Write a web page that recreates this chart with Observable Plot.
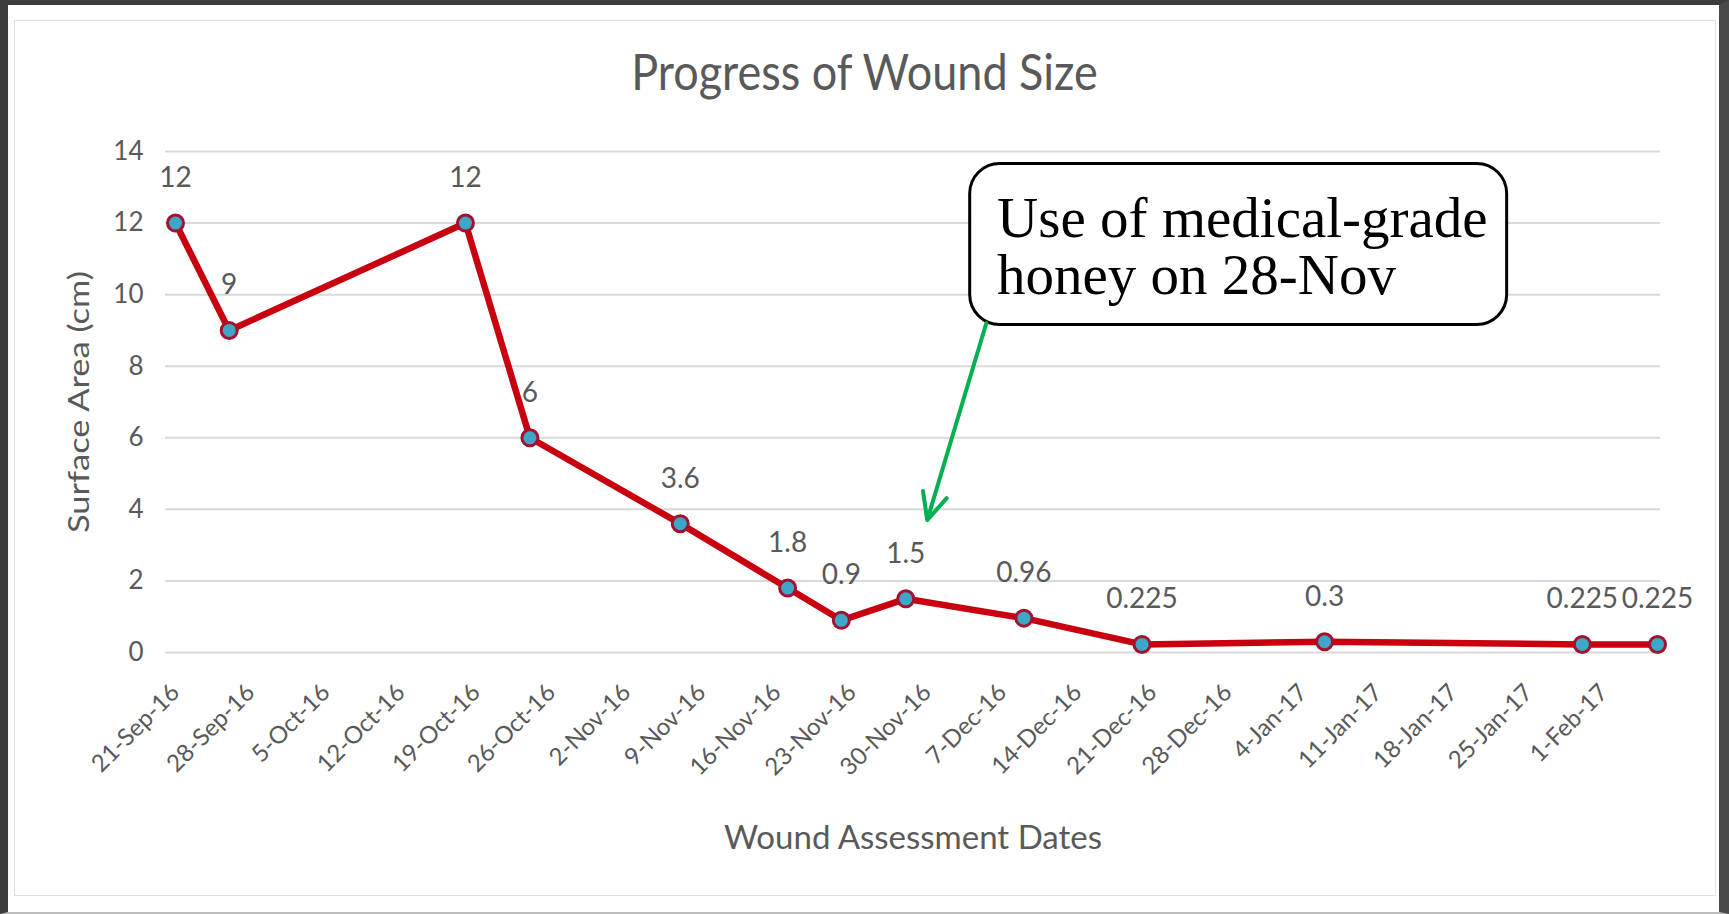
<!DOCTYPE html>
<html>
<head>
<meta charset="utf-8">
<script src="https://cdn.jsdelivr.net/npm/d3@7"></script>
<script src="https://cdn.jsdelivr.net/npm/@observablehq/plot@0.6"></script>
<style>
  html, body { margin: 0; padding: 0; background: #ffffff; }
  #page { position: relative; width: 1729px; height: 914px; overflow: hidden; background: #fff; }
  #outer { position: absolute; left: 0; top: 0; width: 1729px; height: 914px; box-sizing: border-box;
           border-left: 8px solid #3c3c3c; border-top: 5px solid #3c3c3c; border-right: 10px solid #4a4a4a; border-bottom: 2px solid #bdbdbd; }
  #inner { position: absolute; left: 14px; top: 20px; width: 1702px; height: 876px; box-sizing: border-box; border: 1px solid #e2e2e2; }
  #title { position: absolute; left: 0; top: 41px; width: 1729px; text-align: center;
           font-family: Lato, "Open Sans", sans-serif; font-size: 45px; color: #595959; line-height: 60px;
           transform: scaleY(1.12); }
  #chart { position: absolute; left: 0; top: 120px; }
</style>
</head>
<body>
<div id="page">
  <div id="outer"></div>
  <div id="inner"></div>
  <div id="title">Progress of Wound Size</div>
  <div id="chart"></div>
</div>
<script>
// ---- data ----
const assessmentDates = ["2016-09-21","2016-09-26","2016-10-18","2016-10-24","2016-11-07","2016-11-17","2016-11-22","2016-11-28","2016-12-09","2016-12-20","2017-01-06","2017-01-30","2017-02-06"];
const surfaceArea = [12, 9, 12, 6, 3.6, 1.8, 0.9, 1.5, 0.96, 0.225, 0.3, 0.225, 0.225];
const xTickLabels = ["21-Sep-16","28-Sep-16","5-Oct-16","12-Oct-16","19-Oct-16","26-Oct-16","2-Nov-16","9-Nov-16","16-Nov-16","23-Nov-16","30-Nov-16","7-Dec-16","14-Dec-16","21-Dec-16","28-Dec-16","4-Jan-17","11-Jan-17","18-Jan-17","25-Jan-17","1-Feb-17"];
const yTicks = [0, 2, 4, 6, 8, 10, 12, 14];
const annotationText = "Use of medical-grade\nhoney on 28-Nov";
// annotation placement in data units (box corners, arrow from/to, text anchor)
const boxX = ["2016-12-04", "2017-01-23"];
const boxY = [9.15, 13.65];
const arrowFrom = {date: "2016-12-05 12", value: 9.2};
const arrowTo = {date: "2016-11-30", value: 3.7};
const textAt = {date: "2016-12-06 12", value: 12.75};

// ---- build ----
const parseISO = d3.utcParse("%Y-%m-%d");
const parseISOH = s => d3.utcParse("%Y-%m-%d %H")(s) || parseISO(s);
const parseTick = d3.utcParse("%d-%b-%y");
const data = assessmentDates.map((d, i) => ({date: parseISO(d), value: surfaceArea[i]}));
const tickDates = xTickLabels.map(s => parseTick(s));
const fmt = d3.utcFormat("%-d-%b-%y");

const gray = "#595959";
const font = "Lato, 'Open Sans', sans-serif";
const yTitle = "Surface Area (cm)";
const yTitleLength = 262;

const chart = Plot.plot({
  width: 1729,
  height: 780,
  marginLeft: 165,
  marginRight: 69,
  marginTop: 31,
  marginBottom: 248,
  style: {fontFamily: font, background: "transparent", overflow: "visible"},
  x: {type: "utc", domain: [data[0].date, data[data.length - 1].date], insetLeft: 10, insetRight: 3},
  y: {domain: [0, 14]},
  marks: [
    Plot.ruleY(yTicks, {stroke: "#d9d9d9", strokeWidth: 2}),
    Plot.axisY({ticks: yTicks, tickSize: 0, tickPadding: 22, fontSize: 26, fill: gray, label: null}),
    Plot.axisX({ticks: tickDates, tickFormat: fmt, tickSize: 0, tickPadding: 36, tickRotate: -45, fontSize: 24, fill: gray, label: null}),
    Plot.text([yTitle], {frameAnchor: "left", dx: -85, dy: yTitleLength / 2, rotate: -90, textAnchor: "start", fontSize: 28, fill: gray}),
    Plot.text(["Wound Assessment Dates"], {frameAnchor: "bottom", dy: 196, fontSize: 33, fill: gray}),
    Plot.line(data, {x: "date", y: "value", stroke: "#c8000f", strokeWidth: 6.5, strokeLinejoin: "round"}),
    Plot.dot(data, {x: "date", y: "value", r: 8, fill: "#3ea6c6", stroke: "#a3122e", strokeWidth: 3}),
    Plot.text(data, {x: "date", y: "value", text: d => String(d.value), dy: -45, fontSize: 28, fill: gray}),
    Plot.rect([{x1: parseISO(boxX[0]), x2: parseISO(boxX[1]), y1: boxY[0], y2: boxY[1]}],
      {x1: "x1", x2: "x2", y1: "y1", y2: "y2", fill: "white", stroke: "black", strokeWidth: 3, rx: 30}),
    Plot.text([annotationText], {x: () => parseISOH(textAt.date), y: () => textAt.value,
      textAnchor: "start", lineAnchor: "top", lineHeight: 1.0, fontSize: 57, fontFamily: "'Liberation Serif', 'DejaVu Serif', serif", fill: "black"}),
    Plot.arrow([{x1: parseISOH(arrowFrom.date), y1: arrowFrom.value, x2: parseISO(arrowTo.date), y2: arrowTo.value}],
      {x1: "x1", y1: "y1", x2: "x2", y2: "y2", stroke: "#00b050", strokeWidth: 4, headLength: 11, headAngle: 50})
  ]
});
// stretch the rotated y-axis title along its length, as in the original
d3.select(chart).selectAll("text").filter(function() { return this.textContent === yTitle; })
  .attr("textLength", yTitleLength).attr("lengthAdjust", "spacingAndGlyphs");
document.getElementById("chart").appendChild(chart);
</script>
</body>
</html>
